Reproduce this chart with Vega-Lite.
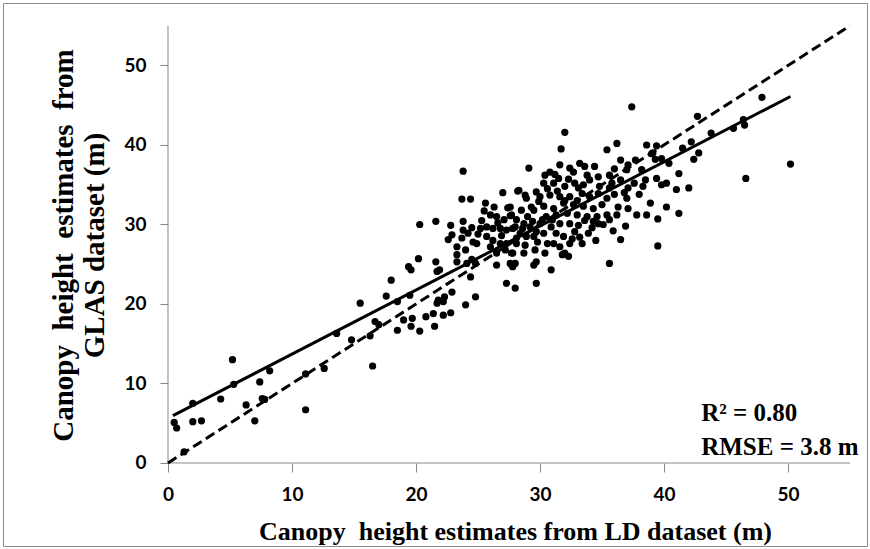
{
  "$schema": "https://vega.github.io/schema/vega-lite/v6.json",
  "width": 864,
  "height": 543,
  "autosize": {"type": "none"},
  "padding": {"left": 3, "top": 3, "right": 3, "bottom": 3},
  "background": "white",
  "config": {"view": {"stroke": "#8c8c8c", "strokeWidth": 1}},
  "datasets": {
    "pts": [
      {"x":0.5,"y":5.1},{"x":0.7,"y":4.4},{"x":1.3,"y":1.4},{"x":2.0,"y":7.5},{"x":2.0,"y":5.2},{"x":2.7,"y":5.3},{"x":4.25,"y":8.05},{"x":5.2,"y":13.0},{"x":5.3,"y":9.9},{"x":6.3,"y":7.3},{"x":7.0,"y":5.3},{"x":7.4,"y":10.2},{"x":7.6,"y":8.1},{"x":7.8,"y":8.0},{"x":8.2,"y":11.6},{"x":11.1,"y":11.2},{"x":11.1,"y":6.7},{"x":12.6,"y":11.9},{"x":13.6,"y":16.3},{"x":14.8,"y":15.5},{"x":15.5,"y":20.1},{"x":16.3,"y":16.0},{"x":16.5,"y":12.2},{"x":16.7,"y":17.8},{"x":17.0,"y":17.4},{"x":17.6,"y":21.0},{"x":18.0,"y":23.0},{"x":18.5,"y":16.7},{"x":18.5,"y":20.3},
      {"x":23.8,"y":36.7},{"x":23.7,"y":33.2},{"x":24.4,"y":33.2},{"x":25.6,"y":32.7},{"x":27.0,"y":34.0},{"x":28.2,"y":34.2},{"x":25.5,"y":31.7},{"x":26.0,"y":31.2},{"x":26.5,"y":31.0},{"x":27.4,"y":32.1},{"x":27.6,"y":31.1},{"x":20.3,"y":30.0},{"x":21.6,"y":30.4},{"x":22.8,"y":29.9},{"x":22.9,"y":28.7},{"x":22.6,"y":28.1},{"x":23.8,"y":30.4},{"x":23.8,"y":29.3},{"x":24.2,"y":28.9},{"x":24.5,"y":29.6},{"x":23.7,"y":28.3},{"x":24.6,"y":27.8},{"x":24.9,"y":27.6},{"x":23.3,"y":27.2},{"x":23.3,"y":26.2},{"x":23.3,"y":25.3},{"x":24.1,"y":25.1},{"x":24.5,"y":25.6},{"x":24.8,"y":25.1},{"x":24.4,"y":23.4},
      {"x":25.2,"y":29.5},{"x":25.7,"y":29.7},{"x":26.2,"y":29.5},{"x":26.8,"y":29.5},{"x":27.3,"y":29.3},{"x":28.0,"y":29.7},{"x":25.7,"y":28.5},{"x":26.2,"y":28.0},{"x":26.8,"y":27.6},{"x":26.0,"y":27.2},{"x":27.3,"y":27.6},{"x":28.1,"y":28.3},{"x":26.5,"y":26.4},{"x":27.2,"y":26.8},{"x":27.8,"y":26.4},{"x":26.5,"y":24.9},{"x":27.6,"y":25.1},{"x":27.8,"y":24.7},{"x":27.3,"y":22.6},{"x":28.0,"y":22.0},
      {"x":19.4,"y":24.7},{"x":19.6,"y":24.3},{"x":20.2,"y":25.7},{"x":21.6,"y":25.3},{"x":21.7,"y":24.1},{"x":21.9,"y":24.3},{"x":19.5,"y":21.1},{"x":22.9,"y":21.5},{"x":22.3,"y":20.9},{"x":21.8,"y":20.5},{"x":22.2,"y":20.3},{"x":21.7,"y":20.1},{"x":24.0,"y":19.9},{"x":24.8,"y":20.9},{"x":19.0,"y":18.0},{"x":19.7,"y":18.2},{"x":19.6,"y":17.2},{"x":20.3,"y":16.6},{"x":20.8,"y":18.4},{"x":21.4,"y":18.8},{"x":22.2,"y":18.6},{"x":22.8,"y":18.9},{"x":21.5,"y":17.2},
      {"x":37.4,"y":44.8},{"x":32.0,"y":41.6},{"x":31.7,"y":39.5},{"x":29.1,"y":37.1},{"x":35.4,"y":39.4},{"x":36.2,"y":40.2},{"x":38.6,"y":40.0},{"x":33.2,"y":37.7},{"x":33.6,"y":37.3},{"x":34.4,"y":37.3},{"x":31.6,"y":37.5},{"x":32.4,"y":37.1},{"x":32.3,"y":35.7},{"x":30.4,"y":36.2},{"x":30.8,"y":36.6},{"x":30.3,"y":35.2},{"x":31.1,"y":35.2},{"x":31.5,"y":35.8},{"x":36.5,"y":38.1},{"x":37.1,"y":37.5},{"x":37.7,"y":38.1},{"x":37.0,"y":36.9},{"x":38.2,"y":36.9},{"x":38.5,"y":35.6},{"x":38.9,"y":32.7},{"x":38.6,"y":31.2},{"x":34.0,"y":35.6},{"x":34.7,"y":36.0},{"x":35.6,"y":36.2},{"x":36.5,"y":35.6},{"x":37.1,"y":34.6},{"x":37.0,"y":33.3},{"x":37.1,"y":32.0},{"x":36.3,"y":32.2},{"x":36.9,"y":29.8},{"x":36.5,"y":28.1},{"x":35.6,"y":25.1},
      {"x":28.3,"y":34.3},{"x":28.8,"y":33.7},{"x":28.9,"y":33.3},{"x":29.7,"y":34.1},{"x":29.3,"y":32.2},{"x":29.9,"y":32.9},{"x":30.8,"y":33.7},{"x":31.6,"y":33.5},{"x":32.4,"y":33.5},{"x":33.1,"y":34.6},{"x":33.4,"y":33.9},{"x":34.0,"y":33.5},{"x":34.7,"y":33.9},{"x":35.4,"y":33.3},{"x":35.0,"y":32.5},{"x":34.3,"y":32.0},{"x":30.3,"y":32.3},{"x":31.1,"y":32.0},{"x":31.9,"y":32.7},{"x":32.7,"y":32.5},{"x":33.5,"y":32.3},{"x":30.5,"y":31.0},{"x":31.3,"y":31.2},{"x":32.2,"y":31.4},{"x":33.0,"y":31.2},{"x":33.8,"y":31.0},{"x":34.6,"y":31.0},{"x":35.4,"y":31.2},{"x":36.2,"y":31.2},{"x":30.0,"y":30.1},{"x":30.9,"y":29.7},{"x":31.6,"y":30.1},{"x":32.4,"y":30.1},{"x":33.1,"y":29.9},{"x":34.7,"y":30.1},{"x":35.6,"y":30.6},
      {"x":27.6,"y":32.2},{"x":27.7,"y":31.2},{"x":28.1,"y":30.6},{"x":28.7,"y":30.1},{"x":29.2,"y":29.7},{"x":29.7,"y":29.1},{"x":27.8,"y":29.5},{"x":28.4,"y":28.9},{"x":28.9,"y":28.5},{"x":28.1,"y":27.6},{"x":28.8,"y":27.4},{"x":29.5,"y":28.5},{"x":30.3,"y":28.9},{"x":31.3,"y":28.9},{"x":31.9,"y":28.5},{"x":32.8,"y":29.1},{"x":33.9,"y":28.9},{"x":27.7,"y":26.4},{"x":28.0,"y":25.1},{"x":28.7,"y":26.4},{"x":29.6,"y":26.8},{"x":31.1,"y":27.6},{"x":31.6,"y":27.2},{"x":32.4,"y":27.6},{"x":33.4,"y":27.6},{"x":31.8,"y":26.2},{"x":32.3,"y":26.0},{"x":32.0,"y":26.4},{"x":29.5,"y":24.9},{"x":29.7,"y":25.3},{"x":30.9,"y":24.3},{"x":29.7,"y":22.6},{"x":27.7,"y":24.9},
      {"x":47.9,"y":46.0},{"x":42.7,"y":43.6},{"x":46.4,"y":43.2},{"x":46.5,"y":42.5},{"x":45.6,"y":42.1},{"x":43.8,"y":41.5},{"x":42.2,"y":40.4},{"x":41.5,"y":39.6},{"x":42.8,"y":39.0},{"x":42.4,"y":38.2},{"x":39.4,"y":39.9},{"x":39.1,"y":39.0},{"x":39.8,"y":38.3},{"x":40.4,"y":37.7},{"x":38.3,"y":34.8},{"x":39.4,"y":35.8},{"x":39.8,"y":35.0},{"x":40.2,"y":35.2},{"x":41.2,"y":36.4},{"x":41.0,"y":34.4},{"x":42.0,"y":34.6},{"x":40.2,"y":32.2},{"x":39.5,"y":30.7},{"x":41.2,"y":31.4},{"x":39.5,"y":27.3},{"x":46.6,"y":35.8},{"x":50.2,"y":37.6},{"x":39.0,"y":38.9},{"x":39.3,"y":38.2},
      {"x":29.0,"y":31.0},{"x":29.5,"y":31.8},{"x":30.0,"y":33.5},{"x":30.6,"y":34.5},{"x":31.4,"y":34.2},{"x":32.0,"y":34.8},{"x":32.8,"y":35.2},{"x":33.5,"y":35.0},{"x":33.8,"y":36.2},{"x":34.8,"y":34.8},{"x":35.6,"y":34.6},{"x":36.0,"y":33.8},{"x":35.8,"y":35.2},{"x":36.8,"y":34.0},{"x":33.0,"y":33.0},{"x":32.0,"y":33.0},{"x":31.0,"y":30.6},{"x":30.2,"y":30.6},{"x":29.4,"y":30.4},{"x":28.5,"y":31.8},{"x":28.6,"y":29.5},{"x":29.8,"y":27.8},{"x":30.6,"y":27.6},{"x":30.4,"y":26.4},{"x":33.6,"y":30.5},{"x":34.2,"y":29.6},{"x":34.3,"y":30.4},{"x":35.1,"y":30.0},{"x":35.9,"y":29.2},{"x":32.6,"y":28.2},{"x":33.2,"y":28.4},{"x":34.5,"y":28.0},{"x":26.6,"y":30.2},{"x":25.3,"y":30.5},{"x":27.1,"y":30.6},{"x":26.3,"y":32.2},{"x":25.0,"y":28.8},{"x":24.0,"y":26.8},{"x":26.9,"y":28.6},{"x":31.2,"y":36.3},{"x":32.7,"y":36.6},{"x":36.0,"y":37.0},{"x":37.6,"y":35.2},{"x":38.0,"y":33.8},{"x":37.8,"y":31.2}
    ],
    "fit": [{"x":0.4,"y":5.95},{"x":50.2,"y":46.1}],
    "oneone": [{"x":0,"y":0},{"x":55,"y":55}],
    "axes": [{"x":0,"y":0,"x2":0,"y2":55},{"x":0,"y":0,"x2":55,"y2":0}],
    "ann": [{"x":43.0,"y":5.3,"t":"R² = 0.80"},{"x":43.0,"y":1.0,"t":"RMSE = 3.8 m"}]
  },
  "encoding": {
    "x": {
      "field": "x", "type": "quantitative",
      "scale": {"domain": [-13.306, 56.371], "nice": false, "zero": false},
      "axis": {
        "values": [0,10,20,30,40,50], "domain": false, "grid": false, "offset": -83,
        "tickSize": 9, "tickColor": "#868686", "tickWidth": 1,
        "labelFont": "Lato", "labelFontWeight": "bold", "labelFontSize": 19, "labelColor": "black",
        "labelPadding": 13, "labelFlush": false, "labelOverlap": false,
        "title": "Canopy\u00a0 height estimates from LD dataset (m)",
        "titleFont": "Liberation Serif", "titleFontSize": 26, "titleFontWeight": "bold", "titleColor": "black",
        "titleX": 512, "titleY": 76, "titleBaseline": "alphabetic", "titleAlign": "center"
      }
    },
    "y": {
      "field": "y", "type": "quantitative",
      "scale": {"domain": [-10.44, 57.86], "nice": false, "zero": false},
      "axis": {
        "values": [0,10,20,30,40,50], "domain": false, "grid": false, "offset": -165,
        "tickSize": 8, "tickColor": "#868686", "tickWidth": 1,
        "labelFont": "Lato", "labelFontWeight": "bold", "labelFontSize": 19, "labelColor": "black",
        "labelPadding": 14, "labelFlush": false, "labelOverlap": false,
        "title": ["Canopy\u00a0 height\u00a0 estimates\u00a0 from", "GLAS dataset (m)"],
        "titleFont": "Liberation Serif", "titleFontSize": 29, "titleFontWeight": "bold", "titleColor": "black",
        "titleAngle": -90, "titleX": -96, "titleY": 242, "titleBaseline": "alphabetic", "titleAlign": "center",
        "titleLineHeight": 31
      }
    }
  },
  "layer": [
    {
      "data": {"name": "axes"},
      "mark": {"type": "rule", "color": "#868686", "strokeWidth": 1},
      "encoding": {"x2": {"field": "x2"}, "y2": {"field": "y2"}}
    },
    {
      "data": {"name": "pts"},
      "mark": {"type": "point", "shape": "circle", "filled": true, "color": "black", "opacity": 1, "size": 52}
    },
    {
      "data": {"name": "oneone"},
      "mark": {"type": "line", "color": "black", "strokeWidth": 3, "strokeDash": [10, 5]}
    },
    {
      "data": {"name": "fit"},
      "mark": {"type": "line", "color": "black", "strokeWidth": 3}
    },
    {
      "data": {"name": "ann"},
      "mark": {"type": "text", "align": "left", "baseline": "alphabetic", "font": "Liberation Serif", "fontWeight": "bold", "fontSize": 25, "color": "black"},
      "encoding": {"text": {"field": "t"}}
    }
  ]
}
